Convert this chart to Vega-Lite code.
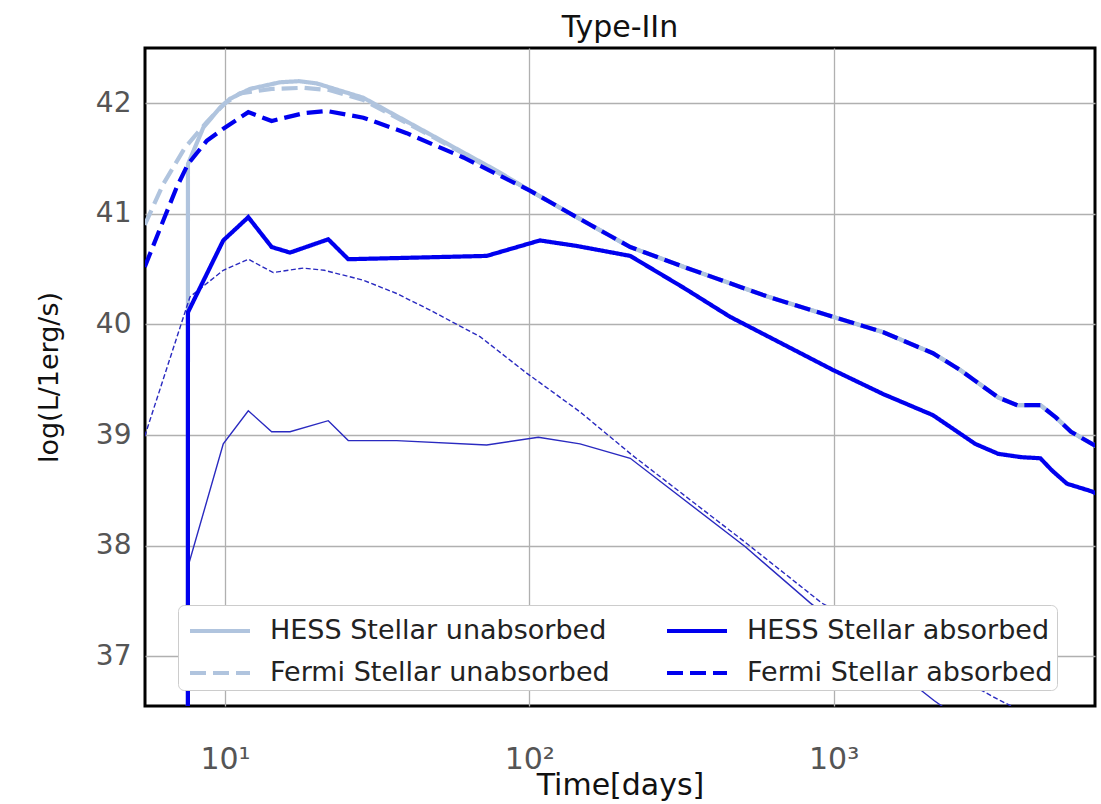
{
  "$schema": "https://vega.github.io/schema/vega-lite/v6.json",
  "autosize": "none",
  "width": 950,
  "height": 658,
  "padding": {"left": 145, "top": 48, "right": 6, "bottom": 98},
  "background": "white",
  "title": {"text": "Type-IIn", "fontSize": 30, "font": "DejaVu Sans", "fontWeight": "normal", "color": "#111111", "offset": 5, "anchor": "middle"},
  "config": {
    "font": "DejaVu Sans",
    "view": {"stroke": "black", "strokeWidth": 3},
    "axis": {
      "grid": true, "gridColor": "#b0b0b0", "gridWidth": 1.3, "domain": false, "ticks": false,
      "labelFont": "DejaVu Sans", "labelFontSize": 28, "labelColor": "#555555",
      "titleFont": "DejaVu Sans", "titleFontWeight": "normal", "titleColor": "#111111"
    },
    "legend": {
      "orient": "none", "legendX": 33, "legendY": 557, "columns": 2, "title": null,
      "fillColor": "white", "strokeColor": "#cccccc", "cornerRadius": 6, "padding": 4,
      "symbolSize": 1600, "symbolStrokeWidth": 4,
      "labelFont": "DejaVu Sans", "labelFontSize": 27, "labelColor": "#222222", "labelOffset": 44,
      "columnPadding": 49, "rowPadding": 7, "labelLimit": 500
    }
  },
  "datasets": {
    "curves": [
      {"s": "Fermi Stellar absorbed", "t": 5.45, "L": 40.52},
      {"s": "Fermi Stellar absorbed", "t": 6.27, "L": 40.94},
      {"s": "Fermi Stellar absorbed", "t": 6.94, "L": 41.24},
      {"s": "Fermi Stellar absorbed", "t": 7.556, "L": 41.45},
      {"s": "Fermi Stellar absorbed", "t": 8.709, "L": 41.66},
      {"s": "Fermi Stellar absorbed", "t": 9.872, "L": 41.77},
      {"s": "Fermi Stellar absorbed", "t": 11.93, "L": 41.92},
      {"s": "Fermi Stellar absorbed", "t": 14.24, "L": 41.84},
      {"s": "Fermi Stellar absorbed", "t": 18.08, "L": 41.91},
      {"s": "Fermi Stellar absorbed", "t": 21.6, "L": 41.93},
      {"s": "Fermi Stellar absorbed", "t": 28.5, "L": 41.87},
      {"s": "Fermi Stellar absorbed", "t": 39.55, "L": 41.73},
      {"s": "Fermi Stellar absorbed", "t": 60.7, "L": 41.51},
      {"s": "Fermi Stellar absorbed", "t": 100.5, "L": 41.21},
      {"s": "Fermi Stellar absorbed", "t": 143.2, "L": 40.97},
      {"s": "Fermi Stellar absorbed", "t": 214.7, "L": 40.70},
      {"s": "Fermi Stellar absorbed", "t": 322.4, "L": 40.52},
      {"s": "Fermi Stellar absorbed", "t": 610.1, "L": 40.25},
      {"s": "Fermi Stellar absorbed", "t": 993.1, "L": 40.07},
      {"s": "Fermi Stellar absorbed", "t": 1457, "L": 39.93},
      {"s": "Fermi Stellar absorbed", "t": 2121, "L": 39.74},
      {"s": "Fermi Stellar absorbed", "t": 2602, "L": 39.59},
      {"s": "Fermi Stellar absorbed", "t": 3477, "L": 39.34},
      {"s": "Fermi Stellar absorbed", "t": 4018, "L": 39.27},
      {"s": "Fermi Stellar absorbed", "t": 4782, "L": 39.27},
      {"s": "Fermi Stellar absorbed", "t": 5374, "L": 39.16},
      {"s": "Fermi Stellar absorbed", "t": 6030, "L": 39.03},
      {"s": "Fermi Stellar absorbed", "t": 7067, "L": 38.92},
      {"s": "Fermi Stellar absorbed", "t": 7300, "L": 38.90},

      {"s": "Fermi Stellar unabsorbed", "t": 5.45, "L": 40.90},
      {"s": "Fermi Stellar unabsorbed", "t": 6.27, "L": 41.27},
      {"s": "Fermi Stellar unabsorbed", "t": 7.39, "L": 41.60},
      {"s": "Fermi Stellar unabsorbed", "t": 8.709, "L": 41.83},
      {"s": "Fermi Stellar unabsorbed", "t": 10.0, "L": 42.00},
      {"s": "Fermi Stellar unabsorbed", "t": 11.2, "L": 42.09},
      {"s": "Fermi Stellar unabsorbed", "t": 14.24, "L": 42.13},
      {"s": "Fermi Stellar unabsorbed", "t": 18.08, "L": 42.14},
      {"s": "Fermi Stellar unabsorbed", "t": 22.0, "L": 42.12},
      {"s": "Fermi Stellar unabsorbed", "t": 28.5, "L": 42.03},
      {"s": "Fermi Stellar unabsorbed", "t": 47.18, "L": 41.71},
      {"s": "Fermi Stellar unabsorbed", "t": 78.15, "L": 41.38},
      {"s": "Fermi Stellar unabsorbed", "t": 100.5, "L": 41.21},
      {"s": "Fermi Stellar unabsorbed", "t": 143.2, "L": 40.97},
      {"s": "Fermi Stellar unabsorbed", "t": 214.7, "L": 40.70},
      {"s": "Fermi Stellar unabsorbed", "t": 322.4, "L": 40.52},
      {"s": "Fermi Stellar unabsorbed", "t": 610.1, "L": 40.25},
      {"s": "Fermi Stellar unabsorbed", "t": 993.1, "L": 40.07},
      {"s": "Fermi Stellar unabsorbed", "t": 1457, "L": 39.93},
      {"s": "Fermi Stellar unabsorbed", "t": 2121, "L": 39.74},
      {"s": "Fermi Stellar unabsorbed", "t": 2602, "L": 39.59},
      {"s": "Fermi Stellar unabsorbed", "t": 3477, "L": 39.34},
      {"s": "Fermi Stellar unabsorbed", "t": 4018, "L": 39.27},
      {"s": "Fermi Stellar unabsorbed", "t": 4782, "L": 39.27},
      {"s": "Fermi Stellar unabsorbed", "t": 5374, "L": 39.16},
      {"s": "Fermi Stellar unabsorbed", "t": 6030, "L": 39.03},
      {"s": "Fermi Stellar unabsorbed", "t": 7067, "L": 38.92},
      {"s": "Fermi Stellar unabsorbed", "t": 7300, "L": 38.90},

      {"s": "HESS Stellar unabsorbed", "t": 7.55, "L": 30.0},
      {"s": "HESS Stellar unabsorbed", "t": 7.556, "L": 41.45},
      {"s": "HESS Stellar unabsorbed", "t": 8.487, "L": 41.78},
      {"s": "HESS Stellar unabsorbed", "t": 9.629, "L": 41.96},
      {"s": "HESS Stellar unabsorbed", "t": 10.38, "L": 42.04},
      {"s": "HESS Stellar unabsorbed", "t": 12.08, "L": 42.13},
      {"s": "HESS Stellar unabsorbed", "t": 15.16, "L": 42.19},
      {"s": "HESS Stellar unabsorbed", "t": 17.5, "L": 42.20},
      {"s": "HESS Stellar unabsorbed", "t": 20.02, "L": 42.18},
      {"s": "HESS Stellar unabsorbed", "t": 28.48, "L": 42.05},
      {"s": "HESS Stellar unabsorbed", "t": 47.18, "L": 41.72},
      {"s": "HESS Stellar unabsorbed", "t": 78.15, "L": 41.39},
      {"s": "HESS Stellar unabsorbed", "t": 100.5, "L": 41.21},
      {"s": "HESS Stellar unabsorbed", "t": 143.2, "L": 40.97},
      {"s": "HESS Stellar unabsorbed", "t": 214.7, "L": 40.70},
      {"s": "HESS Stellar unabsorbed", "t": 322.4, "L": 40.52},
      {"s": "HESS Stellar unabsorbed", "t": 610.1, "L": 40.25},
      {"s": "HESS Stellar unabsorbed", "t": 993.1, "L": 40.07},
      {"s": "HESS Stellar unabsorbed", "t": 1457, "L": 39.93},
      {"s": "HESS Stellar unabsorbed", "t": 2121, "L": 39.74},
      {"s": "HESS Stellar unabsorbed", "t": 2602, "L": 39.59},
      {"s": "HESS Stellar unabsorbed", "t": 3477, "L": 39.34},
      {"s": "HESS Stellar unabsorbed", "t": 4018, "L": 39.27},
      {"s": "HESS Stellar unabsorbed", "t": 4782, "L": 39.27},
      {"s": "HESS Stellar unabsorbed", "t": 5374, "L": 39.16},
      {"s": "HESS Stellar unabsorbed", "t": 6030, "L": 39.03},
      {"s": "HESS Stellar unabsorbed", "t": 7067, "L": 38.92},
      {"s": "HESS Stellar unabsorbed", "t": 7300, "L": 38.90},

      {"s": "HESS Stellar absorbed", "t": 7.55, "L": 30.0},
      {"s": "HESS Stellar absorbed", "t": 7.556, "L": 40.11},
      {"s": "HESS Stellar absorbed", "t": 9.872, "L": 40.76},
      {"s": "HESS Stellar absorbed", "t": 11.93, "L": 40.97},
      {"s": "HESS Stellar absorbed", "t": 14.24, "L": 40.70},
      {"s": "HESS Stellar absorbed", "t": 16.36, "L": 40.65},
      {"s": "HESS Stellar absorbed", "t": 21.85, "L": 40.77},
      {"s": "HESS Stellar absorbed", "t": 25.42, "L": 40.59},
      {"s": "HESS Stellar absorbed", "t": 72.44, "L": 40.62},
      {"s": "HESS Stellar absorbed", "t": 108.4, "L": 40.76},
      {"s": "HESS Stellar absorbed", "t": 143.2, "L": 40.71},
      {"s": "HESS Stellar absorbed", "t": 214.7, "L": 40.62},
      {"s": "HESS Stellar absorbed", "t": 322.4, "L": 40.33},
      {"s": "HESS Stellar absorbed", "t": 456.4, "L": 40.07},
      {"s": "HESS Stellar absorbed", "t": 993.1, "L": 39.59},
      {"s": "HESS Stellar absorbed", "t": 1457, "L": 39.37},
      {"s": "HESS Stellar absorbed", "t": 2121, "L": 39.18},
      {"s": "HESS Stellar absorbed", "t": 2922, "L": 38.92},
      {"s": "HESS Stellar absorbed", "t": 3477, "L": 38.83},
      {"s": "HESS Stellar absorbed", "t": 4140, "L": 38.80},
      {"s": "HESS Stellar absorbed", "t": 4782, "L": 38.79},
      {"s": "HESS Stellar absorbed", "t": 5220, "L": 38.68},
      {"s": "HESS Stellar absorbed", "t": 5848, "L": 38.56},
      {"s": "HESS Stellar absorbed", "t": 7067, "L": 38.49},
      {"s": "HESS Stellar absorbed", "t": 7300, "L": 38.47}
    ],
    "thin": [
      {"s": "Fermi secondary", "t": 5.45, "L": 38.99},
      {"s": "Fermi secondary", "t": 7.674, "L": 40.25},
      {"s": "Fermi secondary", "t": 9.872, "L": 40.49},
      {"s": "Fermi secondary", "t": 11.93, "L": 40.59},
      {"s": "Fermi secondary", "t": 14.41, "L": 40.47},
      {"s": "Fermi secondary", "t": 18.08, "L": 40.51},
      {"s": "Fermi secondary", "t": 21.2, "L": 40.49},
      {"s": "Fermi secondary", "t": 28.48, "L": 40.40},
      {"s": "Fermi secondary", "t": 36.66, "L": 40.28},
      {"s": "Fermi secondary", "t": 47.18, "L": 40.13},
      {"s": "Fermi secondary", "t": 68.87, "L": 39.89},
      {"s": "Fermi secondary", "t": 98.06, "L": 39.56},
      {"s": "Fermi secondary", "t": 146.8, "L": 39.21},
      {"s": "Fermi secondary", "t": 217.5, "L": 38.82},
      {"s": "Fermi secondary", "t": 512.7, "L": 38.03},
      {"s": "Fermi secondary", "t": 915.8, "L": 37.48},
      {"s": "Fermi secondary", "t": 3524, "L": 36.60},
      {"s": "Fermi secondary", "t": 4099, "L": 36.51},

      {"s": "HESS secondary", "t": 7.55, "L": 30.0},
      {"s": "HESS secondary", "t": 7.56, "L": 37.81},
      {"s": "HESS secondary", "t": 9.872, "L": 38.92},
      {"s": "HESS secondary", "t": 11.93, "L": 39.22},
      {"s": "HESS secondary", "t": 14.24, "L": 39.03},
      {"s": "HESS secondary", "t": 16.36, "L": 39.03},
      {"s": "HESS secondary", "t": 21.85, "L": 39.13},
      {"s": "HESS secondary", "t": 25.42, "L": 38.95},
      {"s": "HESS secondary", "t": 36.66, "L": 38.95},
      {"s": "HESS secondary", "t": 72.44, "L": 38.91},
      {"s": "HESS secondary", "t": 107.1, "L": 38.98},
      {"s": "HESS secondary", "t": 146.8, "L": 38.92},
      {"s": "HESS secondary", "t": 214.7, "L": 38.79},
      {"s": "HESS secondary", "t": 512.7, "L": 37.99},
      {"s": "HESS secondary", "t": 839.5, "L": 37.48},
      {"s": "HESS secondary", "t": 2138, "L": 36.60},
      {"s": "HESS secondary", "t": 2377, "L": 36.51}
    ]
  },
  "encoding": {
    "x": {
      "field": "t", "type": "quantitative",
      "scale": {"type": "log", "domain": [5.46, 7230], "nice": false},
      "axis": {
        "title": "Time[days]", "titleFontSize": 30, "titlePadding": -4,
        "values": [10, 100, 1000], "labelPadding": 38, "labelFontSize": 30,
        "labelExpr": "datum.value == 10 ? '10¹' : datum.value == 100 ? '10²' : '10³'"
      }
    },
    "y": {
      "field": "L", "type": "quantitative",
      "scale": {"domain": [36.55, 42.5], "nice": false, "zero": false},
      "axis": {
        "title": "log(L/1erg/s)", "titleFontSize": 27, "titlePadding": 32,
        "values": [37, 38, 39, 40, 41, 42], "format": "d", "labelPadding": 14
      }
    }
  },
  "layer": [
    {
      "data": {"name": "curves"},
      "transform": [{"filter": "indexof(datum.s, 'unabsorbed') >= 0"}],
      "mark": {"type": "line", "strokeWidth": 4.2, "clip": true},
      "encoding": {
        "color": {
          "field": "s", "type": "nominal",
          "scale": {
            "domain": ["HESS Stellar unabsorbed", "Fermi Stellar unabsorbed", "HESS Stellar absorbed", "Fermi Stellar absorbed"],
            "range": ["#b0c4de", "#b0c4de", "#0000ee", "#0000ee"]
          },
          "legend": {"symbolType": "M-0.7,0H2.3"}
        },
        "strokeDash": {
          "field": "s", "type": "nominal",
          "scale": {
            "domain": ["HESS Stellar unabsorbed", "Fermi Stellar unabsorbed", "HESS Stellar absorbed", "Fermi Stellar absorbed"],
            "range": [[1, 0], [16, 7], [1, 0], [16, 7]]
          },
          "legend": {"symbolType": "M-0.7,0H2.3"}
        }
      }
    },
    {
      "data": {"name": "thin"},
      "transform": [{"filter": "datum.s == 'Fermi secondary'"}],
      "mark": {"type": "line", "strokeWidth": 1.4, "color": "#2a2ac0", "strokeDash": [5, 2.5], "clip": true}
    },
    {
      "data": {"name": "thin"},
      "transform": [{"filter": "datum.s == 'HESS secondary'"}],
      "mark": {"type": "line", "strokeWidth": 1.4, "color": "#2a2ac0", "clip": true}
    },
    {
      "data": {"name": "curves"},
      "transform": [{"filter": "indexof(datum.s, 'unabsorbed') < 0"}],
      "mark": {"type": "line", "strokeWidth": 4.2, "clip": true},
      "encoding": {
        "color": {"field": "s", "type": "nominal"},
        "strokeDash": {"field": "s", "type": "nominal"}
      }
    }
  ]
}
